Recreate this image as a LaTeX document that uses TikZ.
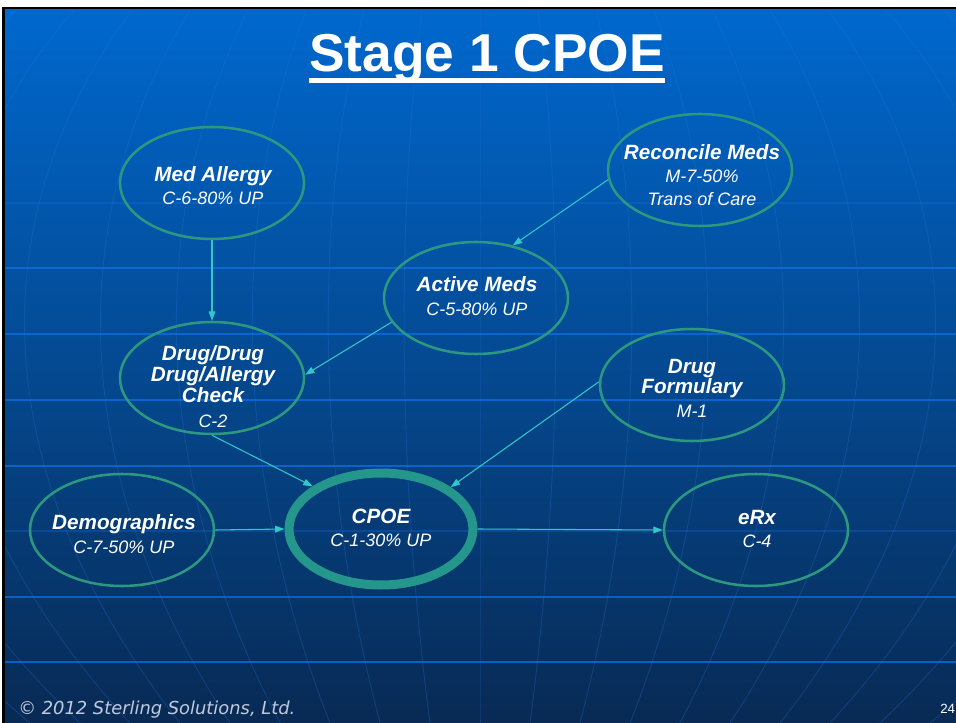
\documentclass[tikz,border=0pt]{standalone}
\usepackage{fontspec}
\setmainfont{Liberation Sans}
\newfontfamily\footfont{DejaVu Sans}
\usetikzlibrary{shapes.geometric,arrows.meta}

\definecolor{bgtop}{RGB}{0,104,206}
\definecolor{bgmid}{RGB}{0,76,158}
\definecolor{bgbot}{RGB}{8,42,84}
\definecolor{gridblue}{RGB}{12,112,228}
\definecolor{meridblue}{RGB}{40,115,215}
\definecolor{ringgreen}{RGB}{44,152,128}
\definecolor{cpoegreen}{RGB}{36,150,140}
\definecolor{linkcyan}{RGB}{50,200,200}
\definecolor{footgray}{RGB}{192,202,222}

\tikzset{
	ring/.style={draw=ringgreen, line width=1.9pt, ellipse, minimum width=138pt, minimum height=84pt, inner sep=0pt},
	lbl/.style={text=white, align=center, inner sep=0pt, font=\fontsize{14}{17.5}\selectfont\itshape},
	link/.style={draw=linkcyan, line width=0.8pt, -{Triangle[length=7pt,width=5pt]}},
	merid/.style={draw=meridblue, line width=0.7pt, opacity=0.28},
}
\newcommand\hd[1]{{\fontsize{15.5}{17.5}\selectfont\bfseries #1}}
\newcommand\cd[1]{{\fontsize{13.5}{17.5}\selectfont #1}}

\begin{document}
\begin{tikzpicture}[x=0.75pt,y=-0.75pt]
	\useasboundingbox (0,0) rectangle (956,723);
	\fill[white] (0,0) rectangle (956,723);
	\fill[black] (2,7) rectangle (956,723);
	\shade[top color=bgtop, middle color=bgmid, bottom color=bgbot] (5,10) rectangle (956,723);

	% globe behind the chart
	\begin{scope}
		\clip (5,10) rectangle (956,723);
		\draw[gridblue, line width=1.5pt, opacity=0.35] (5,203) -- (956,203);
		\foreach \y in {268,334,400,466,597,662}
			\draw[gridblue, line width=1.5pt, opacity=0.75] (5,\y) -- (956,\y);
		\draw[gridblue, line width=1.5pt, opacity=0.3] (5,531) -- (956,531);
		\foreach \k in {-9,...,9}
			\draw[merid] ({480+58*\k},10) .. controls ({480+84*\k},220) and ({480+82*\k},480) .. ({480+50*\k},723);
	\end{scope}

	\node[text=white, inner sep=0pt, anchor=base, font=\fontsize{40}{44}\selectfont\bfseries] (title) at (487,72) {Stage 1 CPOE};
	\draw[white, line width=3.75pt] ([yshift=-6.4pt]title.base west) -- ([yshift=-6.4pt]title.base east);

	% rings
	\node[ring] (medallergy) at (212,183) {};
	\node[ring] (recmeds) at (700,170) {};
	\node[ring] (activemeds) at (476,298) {};
	\node[ring] (drugcheck) at (212,378) {};
	\node[ring] (formulary) at (692,385) {};
	\node[ring] (demographics) at (122,530) {};
	\node[ring, draw=cpoegreen, line width=6.75pt] (cpoe) at (381,529) {};
	\node[ring] (erx) at (756,530) {};

	% texts
	\node[lbl] (medallergy-t) at (213,185.5) {\hd{Med Allergy}\\\cd{C-6-80\% UP}};
	\node[lbl] (recmeds-t) at (702,175) {\hd{Reconcile Meds}\\\cd{M-7-50\%}\\\cd{Trans of Care}};
	\node[lbl] (activemeds-t) at (477,296) {\hd{Active Meds}\\\cd{C-5-80\% UP}};
	\node[lbl] (drugcheck-t) at (213,386.5) {\hd{Drug/Drug}\\[-1.75pt]\hd{Drug/Allergy}\\[-1.75pt]\hd{Check}\\[1.5pt]\cd{C-2}};
	\node[lbl] (formulary-t) at (692,388.5) {\hd{Drug}\\[-2.5pt]\hd{Formulary}\\\cd{M-1}};
	\node[lbl] (demographics-t) at (124,534) {\hd{Demographics}\\\cd{C-7-50\% UP}};
	\node[lbl] (cpoe-t) at (381,528) {\hd{CPOE}\\\cd{C-1-30\% UP}};
	\node[lbl] (erx-t) at (757,529) {\hd{eRx}\\\cd{C-4}};

	% links
	\draw[link] (medallergy.south) -- (drugcheck.north);
	\draw[link] (recmeds.186) -- (activemeds.55);
	\draw[link] (activemeds.196) -- (drugcheck.2);
	\draw[link] (drugcheck.south) -- (cpoe.148);
	\draw[link] (formulary.178) -- (cpoe.31);
	\draw[link] (demographics.east) -- (cpoe.west);
	\draw[link] (cpoe.east) -- (erx.west);

	\node[text=footgray, inner sep=0pt, anchor=base west, font=\footfont\fontsize{13.4}{15}\selectfont\itshape] (foot) at (18,714) {© 2012 Sterling Solutions, Ltd.};
	\node[text=white, inner sep=0pt, anchor=base west, font=\fontsize{10}{12}\selectfont] (pageno) at (940,713) {24};
\end{tikzpicture}
\end{document}
